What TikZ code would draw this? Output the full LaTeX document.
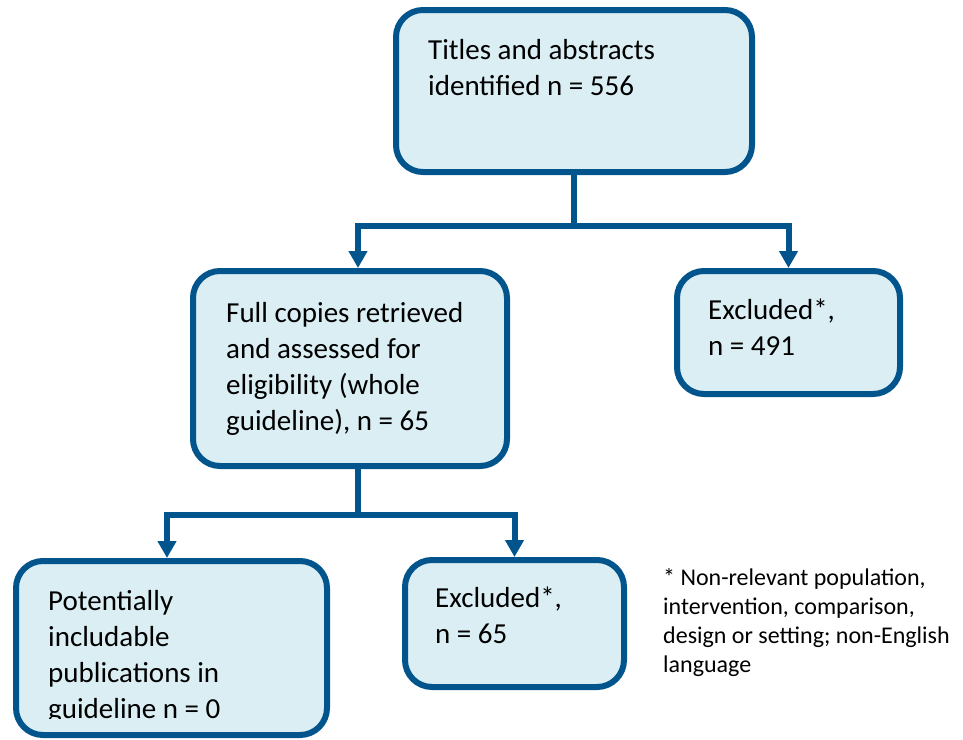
\documentclass[tikz,border=0pt]{standalone}
\usepackage{fontspec}
\setmainfont{Carlito}
\usetikzlibrary{arrows.meta}
\definecolor{boxline}{HTML}{02558C}
\definecolor{boxfill}{HTML}{DAEEF3}
\begin{document}
\begin{tikzpicture}[x=1pt,y=-1pt,
  stage/.style={draw=boxline, fill=boxfill, line width=6pt, rounded corners=27pt, inner sep=0pt},
  % texts are placed by the baseline of their last line
  label/.style={anchor=base west, inner sep=0pt, align=left, font=\fontsize{29}{36}\selectfont},
  note/.style={anchor=base west, inner sep=0pt, align=left, font=\fontsize{24}{29}\selectfont},
  link/.style={draw=boxline, line width=6pt},
  arrow/.style={link, -{Triangle[width=18pt,length=17pt]}}]
\useasboundingbox (0,0) rectangle (963,739);

% boxes
\node[stage, minimum width=356pt, minimum height=162pt] (top) at (574,91) {};
\node[stage, minimum width=314pt, minimum height=195pt] (full) at (350,368.5) {};
\node[stage, minimum width=223pt, minimum height=123pt] (excl1) at (788.5,332.5) {};
\node[stage, minimum width=219pt, minimum height=127pt] (excl2) at (514.5,623.5) {};
\node[stage, minimum width=311pt, minimum height=174pt] (incl) at (171.5,648) {};

% box texts
\node[label] (ttop) at (428,95) {Titles and abstracts\\identified n = 556};
\node[label] (tfull) at (226,430) {Full copies retrieved\\and assessed for\\eligibility (whole\\guideline), n = 65};
\node[label] (texcl1) at (708,355) {Excluded*,\\n = 491};
\node[label] (texcl2) at (435,643) {Excluded*,\\n = 65};
\begin{scope}
  \clip (0,560) rectangle (963,718);
  \node[label] (tincl) at (48,718) {Potentially\\includable\\publications in\\guideline n = 0};
\end{scope}

% footnote
\node[note] (fn) at (663,672) {* Non-relevant population,\\intervention, comparison,\\design or setting; non-English\\language};

% connectors
\coordinate (split1) at (top.south |- 0,226);
\coordinate (split2) at (358,515);
\draw[link] (top.south) -- (split1);
\draw[arrow] (split1) -| ([xshift=8pt]full.north);
\draw[arrow] (split1) -| (excl1.north);
\draw[link] (full.south -| split2) -- (split2);
\draw[arrow] (split2) -| ([xshift=-4.5pt]incl.north);
\draw[arrow] (split2) -| (excl2.north);
\end{tikzpicture}
\end{document}
